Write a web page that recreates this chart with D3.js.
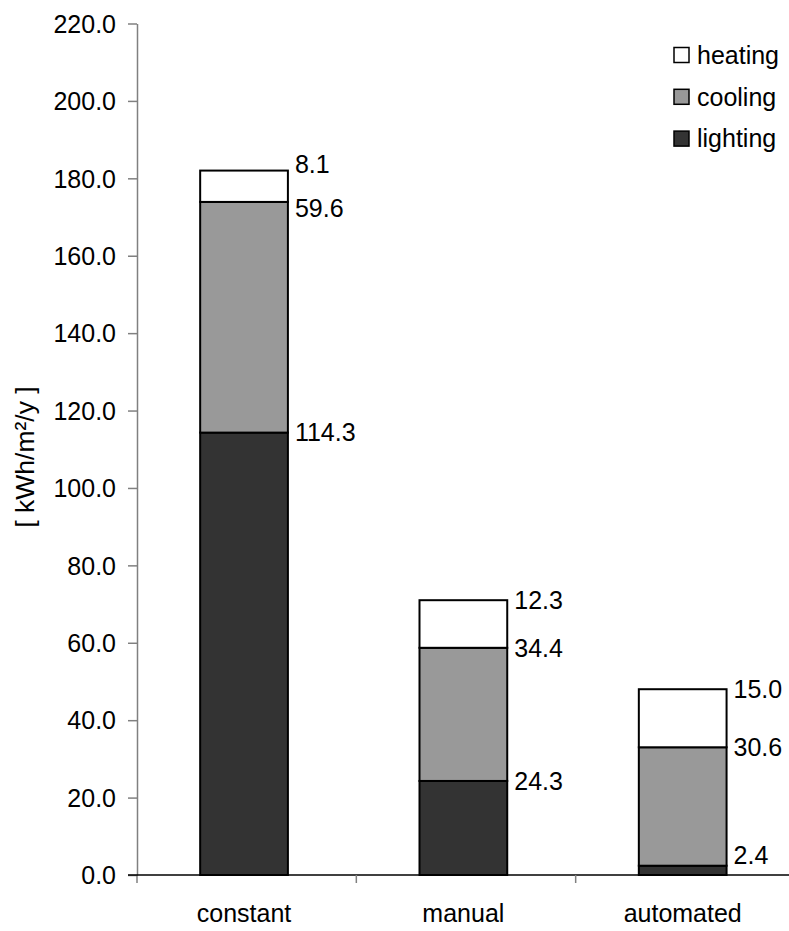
<!DOCTYPE html>
<html>
<head>
<meta charset="utf-8">
<script src="https://cdn.jsdelivr.net/npm/d3@7"></script>
<style>
  body { margin: 0; background: #fff; }
  text { font-family: "Liberation Sans", Arial, sans-serif; fill: #000; }
</style>
</head>
<body>
<div id="chart"></div>
<script>
(function(){
  var width = 789;
  var height = 931;

  // data
  var categories = ['constant', 'manual', 'automated'];
  var series = ['lighting', 'cooling', 'heating'];
  var lighting = [114.3, 24.3, 2.4];
  var cooling = [59.6, 34.4, 30.6];
  var heating = [8.1, 12.3, 15.0];
  var yTicks = [0, 20, 40, 60, 80, 100, 120, 140, 160, 180, 200, 220];
  var colors = { lighting: '#333333', cooling: '#999999', heating: '#ffffff' };
  var legendOrder = ['heating', 'cooling', 'lighting'];

  var fontSize = 25;

  var svg = d3.select('#chart').append('svg')
      .attr('width', width)
      .attr('height', height);

  var y = d3.scaleLinear().domain([0, 220]).range([875, 23.5]);
  var x = d3.scaleBand().domain(categories)
      .range([137, 795])
      .paddingInner(0.6)
      .paddingOuter(0.3)
      .align(0.48);

  // build rows for the stack
  var rows = categories.map(function(c, i){
    return { cat: c, lighting: lighting[i], cooling: cooling[i], heating: heating[i] };
  });
  var stacked = d3.stack().keys(series)(rows);

  // y axis
  var yAxis = svg.append('g')
      .attr('transform', 'translate(137,0)')
      .call(d3.axisLeft(y).tickValues(yTicks).tickFormat(d3.format('.1f'))
            .tickSize(9).tickPadding(12).tickSizeOuter(0));
  yAxis.select('.domain').attr('stroke', '#808080').attr('stroke-width', 1.5);
  yAxis.selectAll('.tick line').attr('stroke', '#808080').attr('stroke-width', 1.5);
  yAxis.selectAll('.tick text')
      .attr('font-size', fontSize)
      .attr('font-family', '"Liberation Sans", Arial, sans-serif')
      .attr('fill', '#000')
      .attr('dy', '0.35em');
  // y axis continues down to the x tick
  svg.append('line')
      .attr('x1', 137).attr('x2', 137)
      .attr('y1', y(0)).attr('y2', y(0) + 8)
      .attr('stroke', '#808080').attr('stroke-width', 1.5);

  // axis title
  svg.append('text')
      .attr('transform', 'translate(34,457) rotate(-90)')
      .attr('text-anchor', 'middle')
      .attr('font-size', 26.5)
      .text('[ kWh/m\u00b2/y ]');

  // bars
  svg.selectAll('g.layer')
      .data(stacked)
      .enter()
      .append('g')
        .attr('class', 'layer')
        .attr('fill', function(d){ return colors[d.key]; })
      .selectAll('rect')
      .data(function(d){ return d; })
      .enter()
      .append('rect')
        .attr('x', function(d){ return x(d.data.cat); })
        .attr('y', function(d){ return y(d[1]); })
        .attr('width', x.bandwidth())
        .attr('height', function(d){ return y(d[0]) - y(d[1]); })
        .attr('stroke', '#000')
        .attr('stroke-width', 2);

  // x axis line and boundary ticks
  svg.append('line')
      .attr('x1', 128).attr('x2', 795)
      .attr('y1', y(0)).attr('y2', y(0))
      .attr('stroke', '#000').attr('stroke-width', 1.5);
  var bounds = d3.range(1, categories.length + 1).map(function(i){
    return x.range()[0] + i * x.step();
  });
  svg.selectAll('line.xtick')
      .data(bounds)
      .enter()
      .append('line')
        .attr('class', 'xtick')
        .attr('x1', function(d){ return d; })
        .attr('x2', function(d){ return d; })
        .attr('y1', y(0)).attr('y2', y(0) + 8)
        .attr('stroke', '#808080').attr('stroke-width', 1.5);

  svg.selectAll('text.cat')
      .data(categories)
      .enter()
      .append('text')
        .attr('class', 'cat')
        .attr('x', function(d){ return x(d) + x.bandwidth() / 2; })
        .attr('y', 922)
        .attr('text-anchor', 'middle')
        .attr('font-size', fontSize)
        .text(function(d){ return d; });

  // value labels, kept apart so they don't overlap
  var minGap = 44;
  categories.forEach(function(c, i){
    var labs = stacked.map(function(layer){
      var d = layer[i];
      return { value: d[1] - d[0], ty: y(d[1]) };
    });
    // bottom label kept clear of the axis
    labs[0].ty = Math.min(labs[0].ty, y(0) - 20);
    for (var k = 1; k < labs.length; k++) {
      var gap = labs[k - 1].ty - labs[k].ty;
      if (gap < minGap) {
        var push = (minGap - gap) / 2;
        labs[k].ty -= push + (k === 1 && labs[0].ty === y(0) - 20 ? push : 0);
        if (!(k === 1 && labs[0].ty === y(0) - 20)) labs[k - 1].ty += push;
      }
    }
    svg.selectAll(null)
        .data(labs)
        .enter()
        .append('text')
          .attr('x', x(c) + x.bandwidth() + 7)
          .attr('y', function(d){ return d.ty; })
          .attr('dy', '0.35em')
          .attr('font-size', fontSize)
          .text(function(d){ return d3.format('.1f')(d.value); });
  });

  // legend
  var legend = svg.selectAll('g.legend')
      .data(legendOrder)
      .enter()
      .append('g')
        .attr('class', 'legend')
        .attr('transform', function(d, i){ return 'translate(674,' + (47.5 + i * 41.8) + ')'; });
  legend.append('rect')
      .attr('width', 15).attr('height', 15)
      .attr('fill', function(d){ return colors[d]; })
      .attr('stroke', '#000')
      .attr('stroke-width', 1.5);
  legend.append('text')
      .attr('x', 23)
      .attr('y', 7.5)
      .attr('dy', '0.35em')
      .attr('font-size', fontSize)
      .text(function(d){ return d; });
})();
</script>
</body>
</html>
